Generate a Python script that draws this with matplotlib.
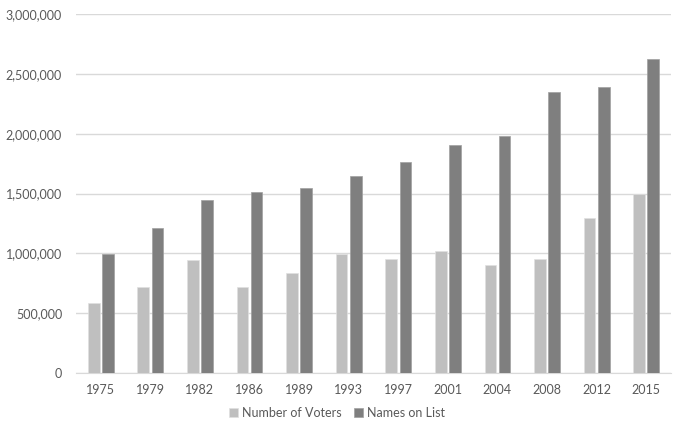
import numpy as np
from matplotlib import pyplot as plt
from matplotlib.ticker import FuncFormatter

years = ['1975', '1979', '1982', '1986', '1989', '1993', '1997',
         '2001', '2004', '2008', '2012', '2015']
voters = [584000, 718000, 943000, 718000, 835000, 996000, 952000,
          1019000, 899000, 952000, 1297000, 1492000]
names_on_list = [996000, 1211000, 1442000, 1514000, 1545000, 1645000,
                 1762000, 1904000, 1979000, 2346000, 2388000, 2627000]

plt.rcParams['font.family'] = ['Lato', 'DejaVu Sans']
text_col = '#595959'

fig = plt.figure(figsize=(6.74, 4.26), dpi=100)
ax = fig.add_axes([76 / 674, 53 / 426, 595 / 674, 359 / 426])

x = np.arange(len(years))
w = 0.235
ax.bar(x - w / 2 - 0.025, voters, w, color='#bfbfbf', label='Number of Voters',
       edgecolor='#e0e0e0', linewidth=0.5, zorder=3)
ax.bar(x + w / 2 + 0.025, names_on_list, w, color='#7f7f7f', label='Names on List',
       edgecolor='#a0a0a0', linewidth=0.5, zorder=3)

ax.set_xlim(-0.5, len(years) - 0.5)
ax.set_ylim(0, 3000000)
ax.set_yticks(np.arange(0, 3000001, 500000))
ax.yaxis.set_major_formatter(FuncFormatter(lambda v, p: '{:,.0f}'.format(v)))
ax.set_xticks(x)
ax.set_xticklabels(years)
ax.grid(axis='y', color='#d9d9d9', linewidth=1, zorder=0)
for s in ['top', 'right', 'left']:
    ax.spines[s].set_visible(False)
ax.spines['bottom'].set_color('#d9d9d9')
ax.tick_params(axis='both', length=0, colors=text_col, labelsize=9)
ax.tick_params(axis='x', pad=8)
ax.tick_params(axis='y', pad=10)

fig.legend(loc='center', bbox_to_anchor=(0.5, 13 / 426), ncol=2, frameon=False,
           fontsize=9, labelcolor=text_col, handlelength=0.7, handleheight=0.7,
           handletextpad=0.3, columnspacing=1.0)

fig.savefig('out.png', dpi=100)
